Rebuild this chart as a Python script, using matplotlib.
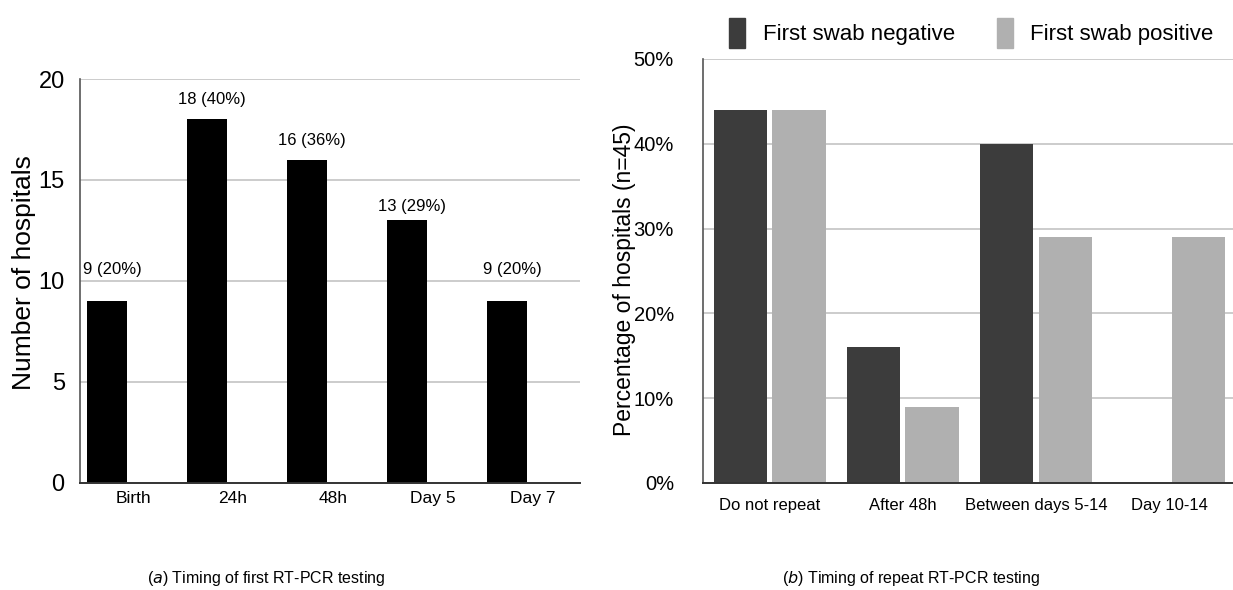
import matplotlib
matplotlib.use('Agg')
import matplotlib.pyplot as plt
import numpy as np
from matplotlib.patches import Patch

# panel (a)
first_cats = ["Birth", "24h", "48h", "Day 5", "Day 7"]
first_counts = [9, 18, 16, 13, 9]
first_labels = ["9 (20%)", "18 (40%)", "16 (36%)", "13 (29%)", "9 (20%)"]

# panel (b)
repeat_cats = ["Do not repeat", "After 48h", "Between days 5-14", "Day 10-14"]
neg_pct = [44, 16, 40, 0]
pos_pct = [44, 9, 29, 29]
series_names = ["First swab negative", "First swab positive"]

FONT = ['Liberation Sans', 'DejaVu Sans']
GRID = '#c8c8c8'
DARK = '#3c3c3c'
LIGHT = '#b0b0b0'

fig = plt.figure(figsize=(12.33, 5.9), dpi=100)

def style_axes(ax):
  ax.set_axisbelow(True)
  ax.yaxis.grid(True, color=GRID, linewidth=1.3)
  for s in ['top', 'right']:
    ax.spines[s].set_visible(False)
  ax.spines['left'].set_color('#555555')
  ax.spines['bottom'].set_color('#333333')
  ax.spines['left'].set_linewidth(1.2)
  ax.spines['bottom'].set_linewidth(1.4)
  ax.tick_params(length=0)

# ---- (a)
ax1 = fig.add_axes([0.0649, 0.1814, 0.4055, 0.6847])
x1 = np.arange(len(first_cats))
ax1.bar(x1 - 0.23, first_counts, width=0.4, color='black')
# labels sit a bit unevenly above the bars in the original
label_lift = [1.2, 0.6, 0.6, 0.3, 1.2]
for xi, v, lab, d in zip(x1, first_counts, first_labels, label_lift):
  ax1.text(xi - 0.18, v + d, lab, ha='center', va='bottom', fontsize=12, family=FONT)
ax1.set_xlim(-0.5, len(first_cats) - 0.5)
ax1.set_ylim(0, 20)
ax1.set_yticks([0, 5, 10, 15, 20])
ax1.set_xticks(x1 + 0.03)
ax1.set_xticklabels(first_cats, family=FONT, fontsize=12.5)
for t in ax1.get_yticklabels():
  t.set_family(FONT)
  t.set_fontsize(17)
ax1.tick_params(axis='x', pad=6)
ax1.tick_params(axis='y', pad=11)
style_axes(ax1)
ax1.set_ylabel("Number of hospitals", family=FONT, fontsize=19)
ax1.yaxis.set_label_coords(-0.088, 0.52)

# ---- (b)
ax2 = fig.add_axes([0.5702, 0.1814, 0.432, 0.7186])
x2 = np.arange(len(repeat_cats))
ax2.bar(x2 - 0.22, neg_pct, width=0.4, color=DARK)
ax2.bar(x2 + 0.22, pos_pct, width=0.4, color=LIGHT)
ax2.set_xlim(-0.5, len(repeat_cats) - 0.5)
ax2.set_ylim(0, 50)
ax2.set_yticks([0, 10, 20, 30, 40, 50])
ax2.set_yticklabels([f"{v}%" for v in [0, 10, 20, 30, 40, 50]], family=FONT, fontsize=14.5)
ax2.set_xticks(x2)
ax2.set_xticklabels(repeat_cats, family=FONT, fontsize=12)
ax2.tick_params(axis='x', pad=11)
ax2.tick_params(axis='y', pad=21)
style_axes(ax2)
ax2.set_ylabel("Percentage of hospitals (n=45)", family=FONT, fontsize=16.5)
ax2.yaxis.set_label_coords(-0.126, 0.48)

handles = [Patch(color=DARK), Patch(color=LIGHT)]
fig.legend(handles, series_names, loc='center', bbox_to_anchor=(0.788, 0.944), ncol=2,
           frameon=False, prop={'family': FONT, 'size': 16}, handlelength=0.7, handleheight=1.7,
           columnspacing=1.9, handletextpad=0.8)

# captions
fig.text(0.216, 0.004, r"($\it{a}$) Timing of first RT-PCR testing", ha='center', va='bottom', fontsize=11.5, family=FONT)
fig.text(0.739, 0.004, r"($\it{b}$) Timing of repeat RT-PCR testing", ha='center', va='bottom', fontsize=11.5, family=FONT)

fig.savefig('out.png', dpi=100)
